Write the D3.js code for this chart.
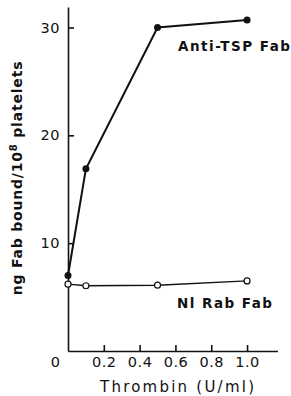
<!DOCTYPE html>
<html>
<head>
<meta charset="utf-8">
<script src="https://cdn.jsdelivr.net/npm/d3@7"></script>
<style>
  body { margin: 0; background: #fff; }
  svg { display: block; }
  text { font-family: "DejaVu Sans", sans-serif; fill: #111; }
</style>
</head>
<body>
<svg width="291" height="396"></svg>
<script>
// thrombin dose (U/ml)
const thrombin = [0, 0.1, 0.5, 1.0];
const antiTSP = [7.0, 16.9, 30.0, 30.7];
const nlRab = [6.2, 6.05, 6.1, 6.5];
const xTicks = [0, 0.2, 0.4, 0.6, 0.8, 1.0];
const yTicks = [10, 20, 30];

const svg = d3.select("svg");

const x = d3.scaleLinear().domain([0, 1.17]).range([68, 277.5]);
const y = d3.scaleLinear().domain([0, 31.9]).range([351, 7]);

// axes
const xAxis = d3.axisBottom(x)
  .tickValues(xTicks)
  .tickSizeInner(-6)
  .tickSizeOuter(0)
  .tickPadding(6)
  .tickFormat(d => d === 0 ? "0" : d3.format(".1f")(d));

const gx = svg.append("g")
  .attr("transform", `translate(0,${y(0)})`)
  .call(xAxis);
gx.selectAll("path, line").attr("stroke", "#111").attr("stroke-width", 1.6);
gx.selectAll("text").style("font-size", "14.5px").style("letter-spacing", "0.5px");
gx.selectAll(".tick").filter(d => d === 0).select("text").attr("x", -13);
gx.selectAll(".tick").filter(d => d === 0).select("line").remove();

const yAxis = d3.axisLeft(y)
  .tickValues(yTicks)
  .tickSizeInner(-6)
  .tickSizeOuter(0)
  .tickPadding(8);

const gy = svg.append("g")
  .attr("transform", `translate(${x(0)},0)`)
  .call(yAxis);
gy.selectAll("path, line").attr("stroke", "#111").attr("stroke-width", 1.6);
gy.selectAll("text").style("font-size", "14.5px").style("letter-spacing", "0.5px");

// series
const line = d3.line().x((d, i) => x(thrombin[i])).y(d => y(d));

svg.append("path")
  .datum(nlRab)
  .attr("fill", "none")
  .attr("stroke", "#111")
  .attr("stroke-width", 1.4)
  .attr("d", line);

svg.append("path")
  .datum(antiTSP)
  .attr("fill", "none")
  .attr("stroke", "#111")
  .attr("stroke-width", 2)
  .attr("d", line);

svg.selectAll(".dotFilled")
  .data(antiTSP)
  .enter().append("circle")
  .attr("cx", (d, i) => x(thrombin[i]))
  .attr("cy", d => y(d))
  .attr("r", 3.5)
  .attr("fill", "#111");

svg.selectAll(".dotOpen")
  .data(nlRab)
  .enter().append("circle")
  .attr("cx", (d, i) => x(thrombin[i]))
  .attr("cy", d => y(d))
  .attr("r", 3)
  .attr("fill", "#fff")
  .attr("stroke", "#111")
  .attr("stroke-width", 1.2);

// series labels
svg.append("text")
  .attr("x", 178).attr("y", 51)
  .attr("textLength", 112)
  .style("font-size", "13.5px").style("font-weight", "bold")
  .text("Anti-TSP Fab");

svg.append("text")
  .attr("x", 177).attr("y", 308)
  .attr("textLength", 95)
  .style("font-size", "13.5px").style("font-weight", "bold")
  .text("Nl Rab Fab");

// axis titles
svg.append("text")
  .attr("x", 100).attr("y", 392)
  .attr("textLength", 154)
  .style("font-size", "15px")
  .text("Thrombin (U/ml)");

const yTitle = svg.append("text")
  .attr("transform", "translate(22,178) rotate(-90)")
  .attr("text-anchor", "middle")
  .style("font-size", "14px")
  .style("font-weight", "bold")
  .style("letter-spacing", "0.8px");
yTitle.append("tspan").text("ng Fab bound/10");
yTitle.append("tspan").attr("dy", -5).style("font-size", "10px").text("8");
yTitle.append("tspan").attr("dy", 5).text(" platelets");
</script>
</body>
</html>
